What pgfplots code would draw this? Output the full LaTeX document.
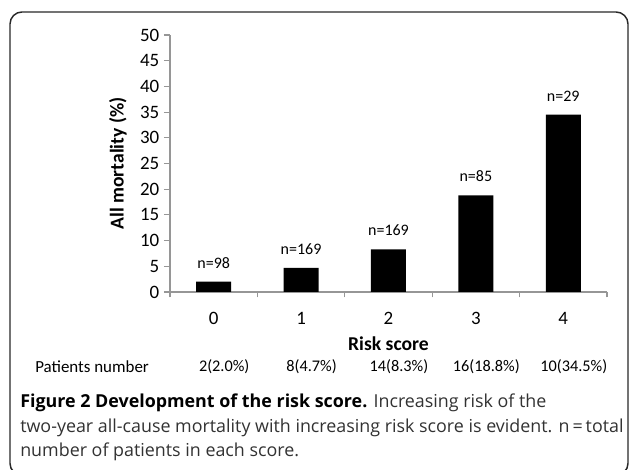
\documentclass[border=0pt]{standalone}
\usepackage{pgfplots}
\pgfplotsset{compat=1.18}
\usepackage{fontspec}
\setmainfont{Carlito}
\newfontfamily\capfont{Open Sans}

\definecolor{axgray}{RGB}{150,150,150}
\definecolor{boxgray}{RGB}{40,40,40}
\definecolor{captext}{RGB}{50,50,50}

\begin{document}
\begin{tikzpicture}
\clip (0,0) rectangle (471.75pt,352.5pt);
\path[use as bounding box] (0,0) rectangle (471.75pt,352.5pt);
% frame
\draw[boxgray, line width=1.1pt, rounded corners=9pt] (7.5pt,-4pt) rectangle (471pt,343.5pt);

\begin{axis}[
    at={(127.5pt,133.5pt)}, anchor=south west,
    scale only axis, width=327.75pt, height=192.75pt,
    ymin=0, ymax=50, ytick={0,5,...,50},
    xmin=-0.5, xmax=4.5,
    xtick={0,1,2,3,4},
    minor xtick={-0.5,0.5,...,4.5},
    axis lines*=left,
    axis line style={draw=axgray, line width=0.8pt},
    major x tick style={draw=none},
    minor x tick style={draw=axgray, line width=0.8pt},
    y tick style={draw=axgray, line width=0.8pt},
    tick align=outside,
    major tick length=4.5pt, minor tick length=4pt,
    /pgf/number format/assume math mode=true,
    ticklabel style={font=\fontsize{14.2}{16}\selectfont},
    xticklabel style={anchor=center, yshift=-15pt},
    xlabel={\textbf{Risk score}},
    ylabel={\textbf{All mortality (\%)}},
    label style={font=\fontsize{14.7}{17}\selectfont},
    xlabel style={at={(axis description cs:0.5,0)}, anchor=center, yshift=-39pt},
    ylabel style={at={(axis description cs:-0.119,0.5)}, anchor=center},
    ybar, bar width=26.25pt,
    clip=false,
]
\addplot[fill=black, draw=none,
    point meta=explicit symbolic,
    nodes near coords={n=\pgfplotspointmeta},
    nodes near coords style={font=\fontsize{12}{14}\selectfont, yshift=6.5pt}]
table[x=score, y=mort, meta=n] {
score mort n
0 2.0 98
1 4.7 169
2 8.3 169
3 18.8 85
4 34.5 29
};
\foreach \xx/\lab in {0/2(2.0\%), 1/8(4.7\%), 2/14(8.3\%), 3/16(18.8\%), 4/10(34.5\%)} {
  \edef\temp{\noexpand\node[font=\noexpand\fontsize{12.2}{14}\noexpand\selectfont] at (axis cs:\xx+0.12,0) [yshift=-56.25pt] {\lab};}
  \temp
}
\end{axis}

\node[anchor=west, inner sep=0pt, font=\fontsize{12.7}{14}\selectfont] at (26.25pt,77.25pt) {Patients number};

\begin{scope}[font=\capfont\fontsize{13.4}{16}\selectfont, color=captext]
\node[anchor=base west, inner sep=0pt] at (15pt,46.5pt) {\textbf{\color{black}Figure 2 Development of the risk score.} Increasing risk of the};
\node[anchor=base west, inner sep=0pt] at (15pt,27.75pt) {two-year all-cause mortality with increasing risk score is evident. n\,=\,total};
\node[anchor=base west, inner sep=0pt] at (15pt,9.75pt) {number of patients in each score.};
\end{scope}
\end{tikzpicture}
\end{document}
